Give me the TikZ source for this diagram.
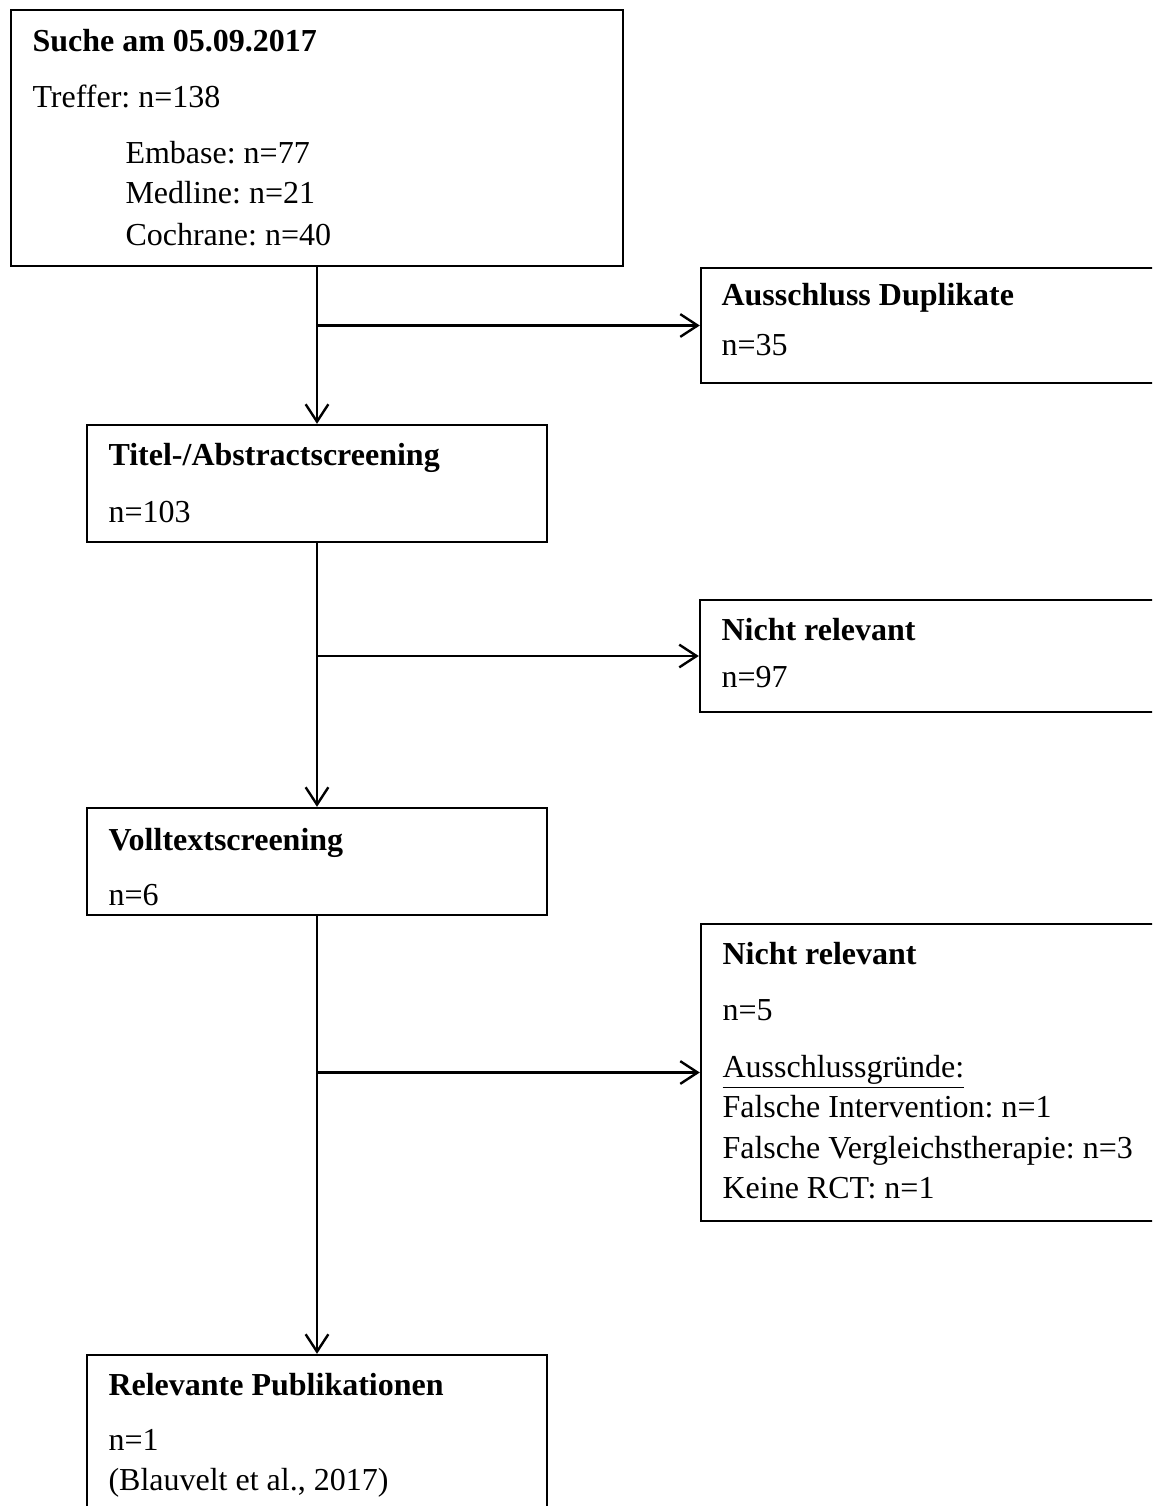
\documentclass[tikz,border=0pt]{standalone}
\usepackage{fontspec}
\setmainfont{Liberation Serif}
\usetikzlibrary{arrows.meta,fit}
\frenchspacing
\tikzset{
  x=0.375pt, y=-0.375pt,
  box/.style={draw, line width=0.9pt, inner sep=0pt, rectangle},
  txt/.style={anchor=base west, inner sep=0pt, font=\fontsize{12}{14}\selectfont},
  btxt/.style={txt, font=\fontsize{12}{14}\selectfont\bfseries},
  arr/.style={line width=0.9pt, -{Straight Barb[length=6.5pt,width=8.5pt,line width=0.9pt]}}
}
\begin{document}
\begin{tikzpicture}
\useasboundingbox (0,0) rectangle (1152,1506);
\clip (0,0) rectangle (1152,1506);
% boxes
\node[box, fit={(11,10) (623,266)}] (b1) {};
\node[box, fit={(701,268) (1170,383)}] (b2) {};
\node[box, fit={(87,425) (547,542)}] (b3) {};
\node[box, fit={(700,600) (1170,712)}] (b4) {};
\node[box, fit={(87,808) (547,915)}] (b5) {};
\node[box, fit={(701,924) (1170,1221)}] (b6) {};
\node[box, fit={(87,1355) (547,1530)}] (b7) {};
% texts
\node[btxt] (t1a) at (32,52) {Suche am 05.09.2017};
\node[txt] (t1b) at (32,107) {Treffer: n=138};
\node[txt] (t1c) at (125,163) {Embase: n=77};
\node[txt] (t1d) at (125,203) {Medline: n=21};
\node[txt] (t1e) at (125,245) {Cochrane: n=40};
\node[btxt] (t2a) at (721,305) {Ausschluss Duplikate};
\node[txt] (t2b) at (721,355) {n=35};
\node[btxt] (t3a) at (108,465) {Titel-/Abstractscreening};
\node[txt] (t3b) at (108,522) {n=103};
\node[btxt] (t4a) at (721,640) {Nicht relevant};
\node[txt] (t4b) at (721,687) {n=97};
\node[btxt] (t5a) at (108,850) {Volltextscreening};
\node[txt] (t5b) at (108,905) {n=6};
\node[btxt] (t6a) at (722,964) {Nicht relevant};
\node[txt] (t6b) at (722,1020) {n=5};
\node[txt] (t6c) at (722,1077) {\underline{Ausschlussgründe:}};
\node[txt] (t6d) at (722,1117) {Falsche Intervention: n=1};
\node[txt] (t6e) at (722,1158) {Falsche Vergleichstherapie: n=3};
\node[txt] (t6f) at (722,1198) {Keine RCT: n=1};
\node[btxt] (t7a) at (108,1395) {Relevante Publikationen};
\node[txt] (t7b) at (108,1450) {n=1};
\node[txt] (t7c) at (108,1490) {(Blauvelt et al., 2017)};
% connectors
\draw[arr] (b1.south) -- (b3.north);
\draw[arr] (b1.south |- b2.west) -- (b2.west);
\draw[arr] (b3.south) -- (b5.north);
\draw[arr] (b3.south |- b4.west) -- (b4.west);
\draw[arr] (b5.south) -- (b7.north);
\draw[arr] (b5.south |- b6.west) -- (b6.west);
\end{tikzpicture}
\end{document}
